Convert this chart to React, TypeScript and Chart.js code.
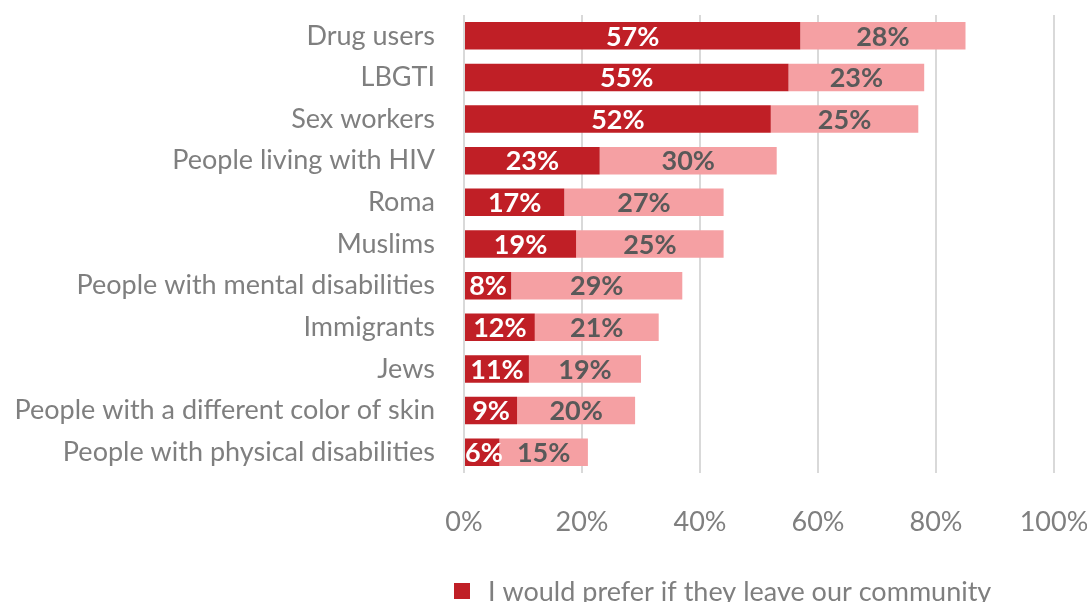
import React, { useEffect, useRef } from "react";
import { Chart, registerables } from "chart.js";

Chart.register(...registerables);

const categories = [
  "Drug users",
  "LBGTI",
  "Sex workers",
  "People living with HIV",
  "Roma",
  "Muslims",
  "People with mental disabilities",
  "Immigrants",
  "Jews",
  "People with a different color of skin",
  "People with physical disabilities",
];

const seriesNames = [
  "I would prefer if they leave our community",
  "I would not like to have them as neighbours",
];

const preferLeave = [57, 55, 52, 23, 17, 19, 8, 12, 11, 9, 6];
const notNeighbours = [28, 23, 25, 30, 27, 25, 29, 21, 19, 20, 15];

const xTicks = [0, 20, 40, 60, 80, 100];

const DARK = "#C01F26";
const LIGHT = "#F5A0A3";
const FONT = "Lato, 'Open Sans', sans-serif";
const FS = 27;

const valueLabelPlugin = {
  id: "valueLabels",
  afterDatasetsDraw(chart: any) {
    const ctx = chart.ctx;
    ctx.save();
    ctx.font = `bold ${FS}px ${FONT}`;
    ctx.textAlign = "center";
    ctx.textBaseline = "middle";
    chart.data.datasets.forEach((ds: any, di: number) => {
      const meta = chart.getDatasetMeta(di);
      ctx.fillStyle = di === 0 ? "#FFFFFF" : "#595959";
      meta.data.forEach((bar: any, i: number) => {
        const v = ds.data[i];
        const cx = (bar.x + bar.base) / 2;
        let tx = cx;
        const w = ctx.measureText(`${v}%`).width;
        const left = Math.min(bar.x, bar.base);
        if (tx - w / 2 < left) tx = left + w / 2;
        ctx.fillText(`${v}%`, tx, bar.y + 1);
      });
    });
    ctx.restore();
  },
};

const legendPlugin = {
  id: "customLegend",
  afterDraw(chart: any) {
    const ctx = chart.ctx;
    ctx.save();
    ctx.font = `${FS}px ${FONT}`;
    ctx.textBaseline = "middle";
    ctx.textAlign = "left";
    const colors = [DARK, LIGHT];
    seriesNames.forEach((name, i) => {
      const y = 592 + i * 42;
      ctx.fillStyle = colors[i];
      ctx.fillRect(454, y - 9, 16, 16);
      ctx.fillStyle = "#7F7F7F";
      ctx.fillText(name, 488, y);
    });
    ctx.restore();
  },
};

const zeroPad = (scale: any) => {
  scale.paddingTop = 0;
  scale.paddingBottom = 0;
  scale.paddingLeft = 0;
  scale.paddingRight = 0;
};

export default function App() {
  const ref = useRef<HTMLCanvasElement | null>(null);
  useEffect(() => {
    document.body.style.margin = "0";
    const chart = new Chart(ref.current as HTMLCanvasElement, {
      type: "bar",
      data: {
        labels: categories,
        datasets: [
          {
            label: seriesNames[0],
            data: preferLeave,
            backgroundColor: DARK,
            categoryPercentage: 1,
            barPercentage: 0.66,
          },
          {
            label: seriesNames[1],
            data: notNeighbours,
            backgroundColor: LIGHT,
            categoryPercentage: 1,
            barPercentage: 0.66,
          },
        ],
      },
      options: {
        indexAxis: "y",
        animation: false,
        responsive: true,
        maintainAspectRatio: false,
        layout: { padding: { top: 15, right: 33, bottom: 59, left: 0 } },
        plugins: {
          legend: { display: false },
          tooltip: { enabled: false },
        },
        scales: {
          x: {
            stacked: true,
            min: 0,
            max: 100,
            afterBuildTicks: (scale: any) => {
              scale.ticks = xTicks.map((v) => ({ value: v }));
            },
            afterFit: (scale: any) => {
              scale.height = 70;
              zeroPad(scale);
            },
            ticks: {
              callback: (v: any) => `${v}%`,
              color: "#7F7F7F",
              font: { family: FONT, size: FS },
              padding: 33,
              maxRotation: 0,
            },
            grid: { color: "#D9D9D9", lineWidth: 2, drawTicks: false },
            border: { display: false },
          },
          y: {
            stacked: true,
            afterFit: (scale: any) => {
              scale.width = 464;
              zeroPad(scale);
            },
            ticks: {
              color: "#7F7F7F",
              font: { family: FONT, size: FS },
              padding: 29,
            },
            grid: { display: false, drawTicks: false },
            border: { display: false },
          },
        },
      },
      plugins: [valueLabelPlugin, legendPlugin],
    });
    return () => chart.destroy();
  }, []);
  return (
    <div style={{ position: "absolute", left: 0, top: 0, width: 1087, height: 602 }}>
      <canvas ref={ref} />
    </div>
  );
}
